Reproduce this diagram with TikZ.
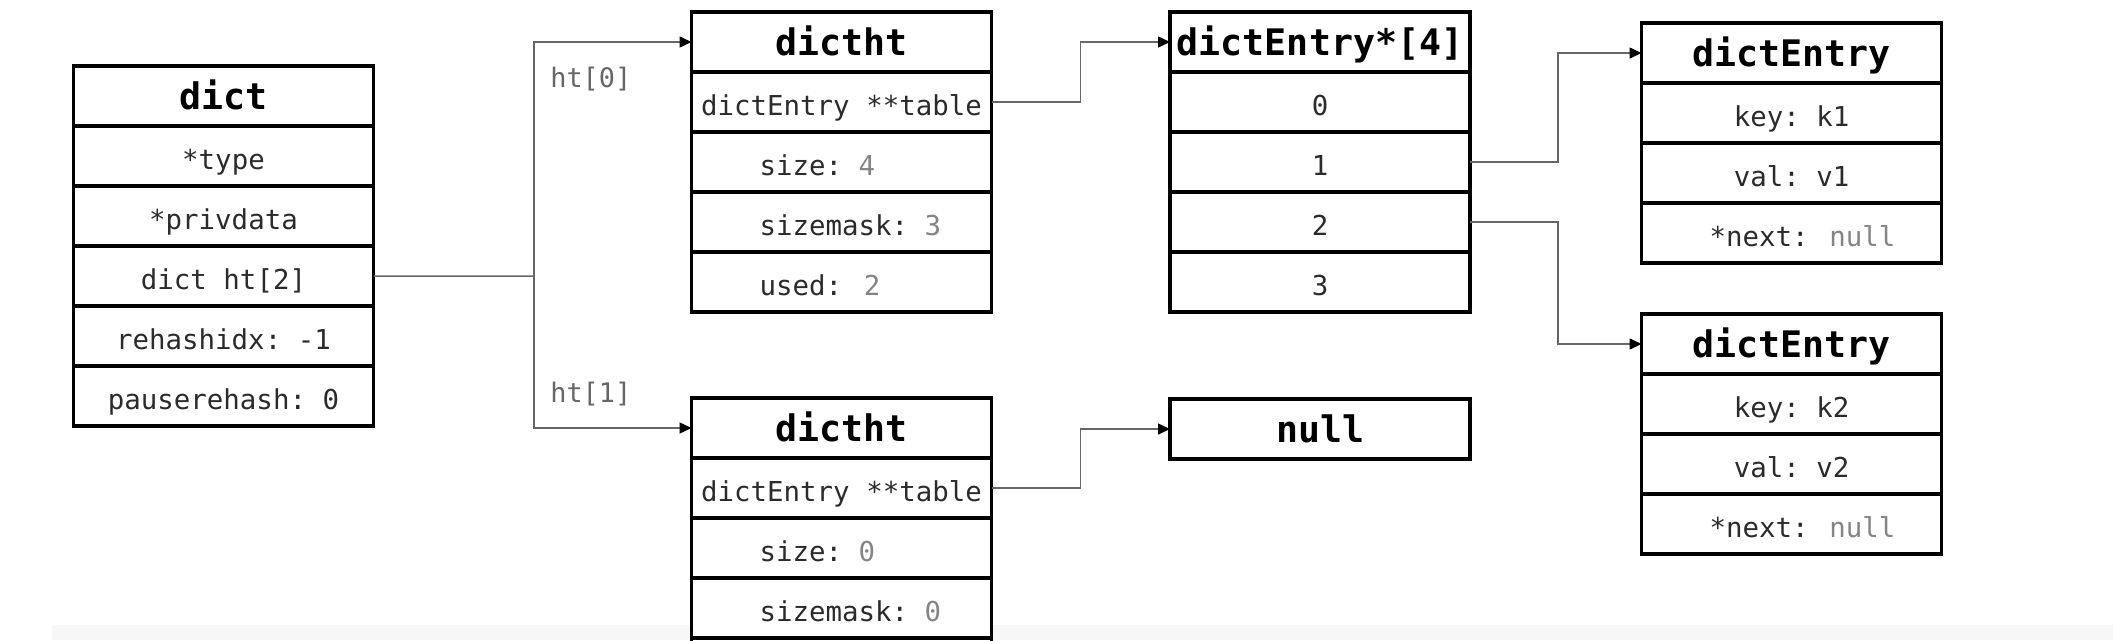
\documentclass[tikz,border=0pt]{standalone}
\usepackage{fontspec}
\setmonofont{DejaVu Sans Mono}
\usetikzlibrary{positioning,arrows.meta}
\tikzset{>={Triangle[length=2.4mm,width=2.2mm,color=black]}}
\definecolor{Ink}{HTML}{2B2B2B}
\definecolor{Wire}{HTML}{666666}
\definecolor{Faded}{HTML}{858585}
\definecolor{Band}{HTML}{F7F7F7}
\newcommand\gval[1]{\textcolor{Faded}{#1}}
\newcommand\lpad[1]{\makebox[32.8mm][l]{#1}}

\begin{document}
\begin{tikzpicture}[x=0.2mm,y=-0.2mm]
  \tikzset{
    cell/.style={rectangle, draw=black, fill=white, line width=2pt,
      minimum width=60mm, minimum height=12mm, inner sep=0pt, outer sep=0pt,
      text height=15.2pt, text depth=0pt,
      text=Ink, font=\ttfamily\fontsize{15.6}{18}\selectfont},
    head/.style={cell, text=black, text height=15.8pt,
      font=\ttfamily\bfseries\fontsize{20.8}{24}\selectfont},
    link/.style={draw=Wire, line width=0.85pt},
    tag/.style={text=Wire, inner sep=0pt, font=\ttfamily\fontsize{15.3}{18}\selectfont}
  }
  \useasboundingbox (0,0) rectangle (2113,640);
  \clip (0,0) rectangle (2113,640);
  \fill[Band] (52,625) rectangle (2113,640);

  \node[head] (dict) at (223.5,96) {dict};
  \node[cell, below=0pt of dict]    (dtype)   {*type};
  \node[cell, below=0pt of dtype]   (dpriv)   {*privdata};
  \node[cell, below=0pt of dpriv]   (dht)     {dict ht[2]};
  \node[cell, below=0pt of dht]     (drehash) {rehashidx: -1};
  \node[cell, below=0pt of drehash] (dpause)  {pauserehash: 0};

  \node[head] (ht0) at (841.5,42) {dictht};
  \node[cell, below=0pt of ht0]    (t0tab)  {dictEntry **table};
  \node[cell, below=0pt of t0tab]  (t0size) {\lpad{size: \gval{4}}};
  \node[cell, below=0pt of t0size] (t0mask) {\lpad{sizemask: \gval{3}}};
  \node[cell, below=0pt of t0mask] (t0used) {\lpad{used:\hspace{0.8em}\gval{2}}};

  \node[head] (ht1) at (841.5,428) {dictht};
  \node[cell, below=0pt of ht1]    (t1tab)  {dictEntry **table};
  \node[cell, below=0pt of t1tab]  (t1size) {\lpad{size: \gval{0}}};
  \node[cell, below=0pt of t1size] (t1mask) {\lpad{sizemask: \gval{0}}};
  \node[cell, below=0pt of t1mask] (t1used) {};

  \node[head] (arr) at (1320,42) {dictEntry*[4]};
  \foreach \i/\p in {0/arr,1/slot0,2/slot1,3/slot2}{
    \node[cell, below=0pt of \p] (slot\i) {\i};
  }

  \node[head] (nul) at (1320,429) {null};

  \node[head] (e1) at (1791.5,53) {dictEntry};
  \node[cell, below=0pt of e1]    (e1key)  {key: k1};
  \node[cell, below=0pt of e1key] (e1val)  {val: v1};
  \node[cell, below=0pt of e1val] (e1next) {\lpad{*next:\hspace{0.76em}\gval{null}}};

  \node[head] (e2) at (1791.5,344) {dictEntry};
  \node[cell, below=0pt of e2]    (e2key)  {key: k2};
  \node[cell, below=0pt of e2key] (e2val)  {val: v2};
  \node[cell, below=0pt of e2val] (e2next) {\lpad{*next:\hspace{0.76em}\gval{null}}};

  \node[tag, anchor=west] (lbl0) at (550,79)  {ht[0]};
  \node[tag, anchor=west] (lbl1) at (550,394) {ht[1]};

  \coordinate (split) at (534,276);
  \draw[link] (dht.east) -- (split);
  \draw[link,->] (split) |- (ht0.west);
  \draw[link,->] (split) |- (ht1.west);
  \draw[link,->] (t0tab.east) -- ++(89,0) |- (arr.west);
  \draw[link,->] (t1tab.east) -- ++(89,0) |- (nul.west);
  \draw[link,->] (slot1.east) -- ++(88,0) |- (e1.west);
  \draw[link,->] (slot2.east) -- ++(88,0) |- (e2.west);
\end{tikzpicture}
\end{document}
